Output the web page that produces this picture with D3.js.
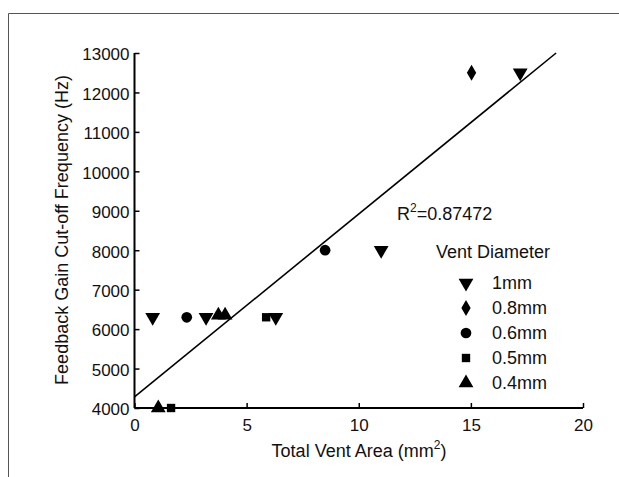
<!DOCTYPE html>
<html>
<head>
<meta charset="utf-8">
<script src="https://cdn.jsdelivr.net/npm/d3@7"></script>
<style>
  body { margin: 0; background: #fff; }
  svg text { font-family: "Liberation Sans", Arial, sans-serif; fill: #111; }
</style>
</head>
<body>
<svg width="619" height="477"></svg>
<script>
// valori
var areaVals  = [0.81, 2.33, 3.19, 3.74, 4.04, 5.87, 6.3, 1.06, 1.63, 8.5, 11.0, 15.03, 17.2];
var freqVals  = [6300, 6300, 6300, 6350, 6350, 6300, 6300, 4000, 4000, 8000, 8000, 12500, 12500];
var ventVals  = ["1mm", "0.6mm", "1mm", "0.4mm", "0.4mm", "0.5mm", "1mm", "0.4mm", "0.5mm", "0.6mm", "1mm", "0.8mm", "1mm"];
var legendLabels = ["1mm", "0.8mm", "0.6mm", "0.5mm", "0.4mm"];
var xTicks = [0, 5, 10, 15, 20];
var yTicks = [4000, 5000, 6000, 7000, 8000, 9000, 10000, 11000, 12000, 13000];
var fitX = [0, 18.8];
var fitY = [4280, 13000];
var rSquared = "0.87472";

var svg = d3.select("svg");
var margin = {left: 134.5, top: 53, right: 36, bottom: 69};
var width = 583 - margin.left, height = 408 - margin.top;

// cornice esterna (solo lati sinistro e superiore visibili)
svg.append("path")
  .attr("d", "M8.5,477V13.5H619")
  .attr("fill", "none").attr("stroke", "#555").attr("stroke-width", 1);

var g = svg.append("g").attr("transform", "translate(" + margin.left + "," + margin.top + ")");

var x = d3.scaleLinear().domain([0, 20]).range([0, width]);
var y = d3.scaleLinear().domain([4000, 13000]).range([height, 0]);

var xAxis = g.append("g").attr("transform", "translate(0," + height + ")")
  .call(d3.axisBottom(x).tickValues(xTicks).tickSize(-5).tickPadding(11).tickFormat(d3.format("d")));
var yAxis = g.append("g")
  .call(d3.axisLeft(y).tickValues(yTicks).tickSize(-5).tickPadding(5).tickFormat(d3.format("d")));

[xAxis, yAxis].forEach(function(a) {
  a.select(".domain").attr("stroke", "#000").attr("stroke-width", 2);
  a.selectAll(".tick line").attr("stroke", "#000").attr("stroke-width", 1.5);
  a.selectAll("text").style("font-size", "17px").attr("fill", "#111");
});
yAxis.selectAll(".tick text").attr("dy", "0.4em");
xAxis.selectAll(".tick text").attr("dy", "0.71em");
xAxis.select(".domain").attr("d", "M0,0H" + width);
yAxis.select(".domain").attr("d", "M0," + height + "V0");

// retta di regressione
g.append("line")
  .attr("x1", x(fitX[0])).attr("y1", y(fitY[0]))
  .attr("x2", x(fitX[1])).attr("y2", y(fitY[1]))
  .attr("stroke", "#000").attr("stroke-width", 1.6);

var symbolFor = {
  "1mm":   {type: d3.symbolTriangle, size: 95, rot: 180},
  "0.8mm": {type: d3.symbolDiamond, size: 75, rot: 0},
  "0.6mm": {type: d3.symbolCircle, size: 90, rot: 0},
  "0.5mm": {type: d3.symbolSquare, size: 70, rot: 0},
  "0.4mm": {type: d3.symbolTriangle, size: 95, rot: 0}
};
function symPath(v) {
  return d3.symbol().type(symbolFor[v].type).size(symbolFor[v].size)();
}

var pts = areaVals.map(function(a, i) { return {a: a, f: freqVals[i], v: ventVals[i]}; });
g.selectAll(".pt").data(pts).enter().append("path")
  .attr("class", "pt")
  .attr("d", function(d) { return symPath(d.v); })
  .attr("transform", function(d) {
    return "translate(" + x(d.a) + "," + y(d.f) + ") rotate(" + symbolFor[d.v].rot + ")";
  })
  .attr("fill", "#000");

// R^2
var rt = svg.append("text").attr("x", 397).attr("y", 220).style("font-size", "18px");
rt.append("tspan").text("R");
rt.append("tspan").attr("dy", -8).style("font-size", "12px").text("2");
rt.append("tspan").attr("dy", 8).text("=" + rSquared);

// legenda
svg.append("text").attr("x", 436).attr("y", 258).style("font-size", "18px").text("Vent Diameter");
var leg = svg.selectAll(".leg").data(legendLabels).enter().append("g")
  .attr("transform", function(d, i) { return "translate(466," + (283 + i * 25) + ")"; });
leg.append("path")
  .attr("d", function(d) { return symPath(d); })
  .attr("transform", function(d) { return "rotate(" + symbolFor[d].rot + ")"; })
  .attr("fill", "#000");
leg.append("text").attr("x", 26).attr("dy", "0.36em").style("font-size", "18px").text(function(d) { return d; });

// titoli assi
var xt = svg.append("text").attr("x", 359).attr("y", 457).attr("text-anchor", "middle").style("font-size", "18px");
xt.append("tspan").text("Total Vent Area (mm");
xt.append("tspan").attr("dy", -8).style("font-size", "12px").text("2");
xt.append("tspan").attr("dy", 8).text(")");

svg.append("text")
  .attr("transform", "translate(68,230) rotate(-90)")
  .attr("text-anchor", "middle").style("font-size", "18px")
  .text("Feedback Gain Cut-off Frequency (Hz)");
</script>
</body>
</html>
